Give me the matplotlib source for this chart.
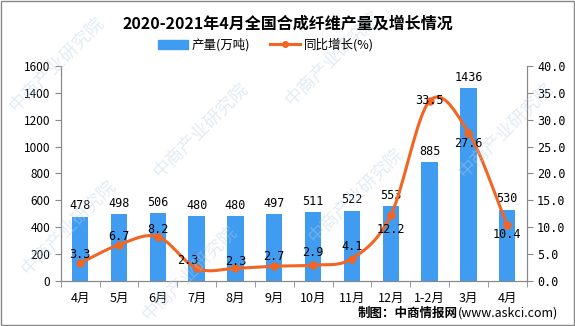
import matplotlib.pyplot as plt
import numpy as np

plt.rcParams['font.family'] = ['Noto Sans CJK SC', 'DejaVu Sans']

months = ['4月', '5月', '6月', '7月', '8月', '9月', '10月', '11月', '12月', '1-2月', '3月', '4月']
output = [478, 498, 506, 480, 480, 497, 511, 522, 553, 885, 1436, 530]
growth = [3.3, 6.7, 8.2, 2.3, 2.3, 2.7, 2.9, 4.1, 12.2, 33.5, 27.6, 10.4]

# label nudges for the growth values (points)
growth_offsets = [(0, 6), (0, 6), (0, 5), (-6, 6), (0, 5), (0, 7), (0, 9), (0, 9),
                  (0, -10), (0, 0), (0, -8), (0, -7)]

bar_color = '#3f9cf0'
line_color = '#f26522'
mono = 'DejaVu Sans Mono'


def smooth(xs, ys, n=20):
    # catmull-rom curve through the points, only for drawing
    xs = np.asarray(xs, float)
    ys = np.asarray(ys, float)
    px = np.concatenate([[2 * xs[0] - xs[1]], xs, [2 * xs[-1] - xs[-2]]])
    py = np.concatenate([[2 * ys[0] - ys[1]], ys, [2 * ys[-1] - ys[-2]]])
    outx, outy = [], []
    t = np.linspace(0, 1, n)
    for i in range(1, len(px) - 2):
        for p, out in ((px, outx), (py, outy)):
            p0, p1, p2, p3 = p[i - 1], p[i], p[i + 1], p[i + 2]
            out.extend(0.5 * ((2 * p1) + (-p0 + p2) * t
                              + (2 * p0 - 5 * p1 + 4 * p2 - p3) * t ** 2
                              + (-p0 + 3 * p1 - 3 * p2 + p3) * t ** 3))
    return np.array(outx), np.array(outy)


fig = plt.figure(figsize=(5.75, 3.26), dpi=100)
ax = fig.add_axes([0.1056, 0.139, 0.8104, 0.6585])
ax2 = ax.twinx()

x = np.arange(len(months))
bars = ax.bar(x, output, width=0.42, color=bar_color, zorder=2)
for xi, v in zip(x, output):
    ax.annotate(str(v), (xi, v), xytext=(0, 3), textcoords='offset points',
                ha='center', va='bottom', fontsize=8.5, family=mono)

sx, sy = smooth(x, growth)
ax2.plot(sx, sy, color=line_color, lw=2.2, zorder=3)
ax2.plot(x, growth, 'o', color=line_color, ms=5, zorder=4)
for xi, v, off in zip(x, growth, growth_offsets):
    ax2.annotate(f'{v:.1f}', (xi, v), xytext=off, textcoords='offset points',
                 ha='center', va='center', fontsize=8.5, family=mono, zorder=5)

ax.set_xlim(-0.5, len(months) - 0.5)
ax.set_ylim(0, 1600)
ax.set_yticks(np.arange(0, 1601, 200))
ax2.set_ylim(0, 40)
ax2.set_yticks(np.arange(0, 40.1, 5))
ax2.set_yticklabels([f'{v:.1f}' for v in np.arange(0, 40.1, 5)], family=mono)

ax.set_xticks(x)
ax.set_xticklabels(months, fontsize=9)
ax.set_xticks(np.arange(-0.5, len(months), 1), minor=True)
ax.tick_params(axis='x', which='major', length=0, pad=8)
ax.tick_params(axis='x', which='minor', length=4, color='#888888')
ax.tick_params(axis='y', labelsize=8.5, color='#888888', length=4)
ax2.tick_params(axis='y', labelsize=8.5, color='#888888', length=4)

for a in (ax, ax2):
    a.spines['top'].set_visible(False)
    for s in ('left', 'right', 'bottom'):
        a.spines[s].set_color('#888888')

# legend
handles = [plt.Rectangle((0, 0), 1, 1, color=bar_color),
           plt.Line2D([], [], color=line_color, lw=2.2, marker='o', ms=4)]
fig.legend(handles, ['产量(万吨)', '同比增长(%)'], loc='center', bbox_to_anchor=(0.463, 0.862),
           ncol=2, frameon=False, fontsize=9, handlelength=2.4, columnspacing=1.6,
           handletextpad=0.3)

fig.text(0.5, 0.928, '2020-2021年4月全国合成纤维产量及增长情况', ha='center', va='center',
         fontsize=11.5, fontweight='bold')
src = fig.text(0.622, 0.04, '制图：中商情报网', ha='left', va='center', fontsize=9,
               fontweight='bold')
fig.canvas.draw()
fig.text(src.get_window_extent().x1 / fig.bbox.width, 0.04, '(www.askci.com)',
         ha='left', va='center', fontsize=9)

# faint watermark
for wx, wy in [(0.1, 0.8), (0.35, 0.6), (0.62, 0.4), (0.88, 0.6), (0.12, 0.3),
               (0.58, 0.82), (0.33, 0.16)]:
    fig.text(wx, wy, '中商产业研究院', rotation=45, ha='center', va='center',
             fontsize=13, color='#b8cfe0', alpha=0.4, zorder=0)

fig.patches.append(plt.Rectangle((0.001, 0.002), 0.997, 0.995, transform=fig.transFigure,
                                 fill=False, edgecolor='#888888', lw=1))
fig.savefig('out.png', dpi=100)
